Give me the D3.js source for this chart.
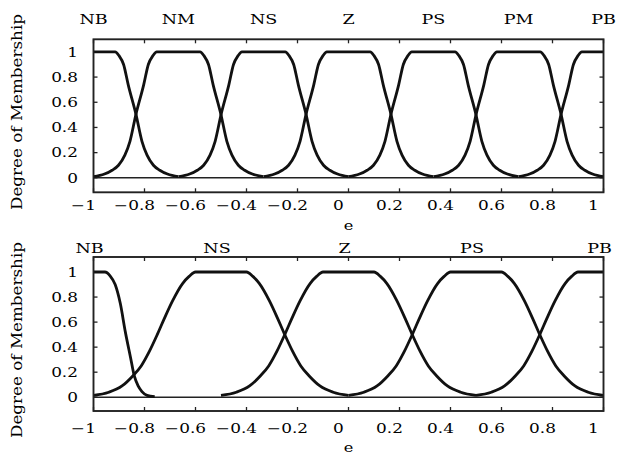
<!DOCTYPE html>
<html>
<head>
<meta charset="utf-8">
<script src="https://d3js.org/d3.v7.min.js"></script>
<style>
  body { margin: 0; background: #fff; }
  text { font-family: "DejaVu Serif", serif; fill: #000; }
</style>
</head>
<body>
<svg width="621" height="454"></svg>
<script>
// axis values
const xTicks = [-1, -0.8, -0.6, -0.4, -0.2, 0, 0.2, 0.4, 0.6, 0.8, 1];
const xTickLabels = ["\u22121", "\u22120.8", "\u22120.6", "\u22120.4", "\u22120.2", "0", "0.2", "0.4", "0.6", "0.8", "1"];
const yTicks = [0, 0.2, 0.4, 0.6, 0.8, 1];
const yTickLabels = ["0", "0.2", "0.4", "0.6", "0.8", "1"];

// upper plot: 7 sets
const topNames = ["NB", "NM", "NS", "Z", "PS", "PM", "PB"];
const topCenters = [-1, -0.667, -0.333, 0, 0.333, 0.667, 1];
const topNB = [[-1,1],[-0.915,1],[-0.9,0.97],[-0.882,0.9],[-0.864,0.74],[-0.833,0.5],[-0.81,0.29],[-0.79,0.18],[-0.765,0.1],[-0.74,0.06],[-0.71,0.03],[-0.667,0.01]];
const topNM = [[-1,0.01],[-0.957,0.03],[-0.927,0.06],[-0.902,0.1],[-0.877,0.18],[-0.857,0.29],[-0.834,0.5],[-0.803,0.74],[-0.785,0.9],[-0.767,0.97],[-0.752,1],[-0.582,1],[-0.567,0.97],[-0.549,0.9],[-0.531,0.74],[-0.5,0.5],[-0.477,0.29],[-0.457,0.18],[-0.432,0.1],[-0.407,0.06],[-0.377,0.03],[-0.334,0.01]];
const topNS = [[-0.666,0.01],[-0.623,0.03],[-0.593,0.06],[-0.568,0.1],[-0.543,0.18],[-0.523,0.29],[-0.5,0.5],[-0.469,0.74],[-0.451,0.9],[-0.433,0.97],[-0.418,1],[-0.248,1],[-0.233,0.97],[-0.215,0.9],[-0.197,0.74],[-0.166,0.5],[-0.143,0.29],[-0.123,0.18],[-0.098,0.1],[-0.073,0.06],[-0.043,0.03],[0,0.01]];
const topZ = [[-0.333,0.01],[-0.29,0.03],[-0.26,0.06],[-0.235,0.1],[-0.21,0.18],[-0.19,0.29],[-0.167,0.5],[-0.136,0.74],[-0.118,0.9],[-0.1,0.97],[-0.085,1],[0.085,1],[0.1,0.97],[0.118,0.9],[0.136,0.74],[0.167,0.5],[0.19,0.29],[0.21,0.18],[0.235,0.1],[0.26,0.06],[0.29,0.03],[0.333,0.01]];
const topPS = [[0,0.01],[0.043,0.03],[0.073,0.06],[0.098,0.1],[0.123,0.18],[0.143,0.29],[0.166,0.5],[0.197,0.74],[0.215,0.9],[0.233,0.97],[0.248,1],[0.418,1],[0.433,0.97],[0.451,0.9],[0.469,0.74],[0.5,0.5],[0.523,0.29],[0.543,0.18],[0.568,0.1],[0.593,0.06],[0.623,0.03],[0.666,0.01]];
const topPM = [[0.334,0.01],[0.377,0.03],[0.407,0.06],[0.432,0.1],[0.457,0.18],[0.477,0.29],[0.5,0.5],[0.531,0.74],[0.549,0.9],[0.567,0.97],[0.582,1],[0.752,1],[0.767,0.97],[0.785,0.9],[0.803,0.74],[0.834,0.5],[0.857,0.29],[0.877,0.18],[0.902,0.1],[0.927,0.06],[0.957,0.03],[1,0.01]];
const topPB = [[0.667,0.01],[0.71,0.03],[0.74,0.06],[0.765,0.1],[0.79,0.18],[0.81,0.29],[0.833,0.5],[0.864,0.74],[0.882,0.9],[0.9,0.97],[0.915,1],[1,1]];

// lower plot: 5 sets
const botNames = ["NB", "NS", "Z", "PS", "PB"];
const botCenters = [-1, -0.5, 0, 0.5, 1];
const botNB = [[-1,1],[-0.955,1],[-0.935,0.97],[-0.915,0.9],[-0.895,0.75],[-0.875,0.52],[-0.855,0.32],[-0.84,0.17],[-0.825,0.09],[-0.81,0.045],[-0.79,0.015],[-0.76,0.005]];
const botNS = [[-1,0.015],[-0.94,0.04],[-0.888,0.09],[-0.846,0.17],[-0.813,0.25],[-0.78,0.37],[-0.75,0.5],[-0.722,0.63],[-0.69,0.77],[-0.65,0.91],[-0.625,0.965],[-0.6,1],[-0.4,1],[-0.375,0.965],[-0.35,0.91],[-0.31,0.77],[-0.278,0.63],[-0.25,0.5],[-0.22,0.37],[-0.187,0.25],[-0.154,0.17],[-0.112,0.09],[-0.06,0.04],[0,0.015]];
const botZ = [[-0.5,0.015],[-0.44,0.04],[-0.388,0.09],[-0.346,0.17],[-0.313,0.25],[-0.28,0.37],[-0.25,0.5],[-0.222,0.63],[-0.19,0.77],[-0.15,0.91],[-0.125,0.965],[-0.1,1],[0.1,1],[0.125,0.965],[0.15,0.91],[0.19,0.77],[0.222,0.63],[0.25,0.5],[0.28,0.37],[0.313,0.25],[0.346,0.17],[0.388,0.09],[0.44,0.04],[0.5,0.015]];
const botPS = [[0,0.015],[0.06,0.04],[0.112,0.09],[0.154,0.17],[0.187,0.25],[0.22,0.37],[0.25,0.5],[0.278,0.63],[0.31,0.77],[0.35,0.91],[0.375,0.965],[0.4,1],[0.6,1],[0.625,0.965],[0.65,0.91],[0.69,0.77],[0.722,0.63],[0.75,0.5],[0.78,0.37],[0.813,0.25],[0.846,0.17],[0.888,0.09],[0.94,0.04],[1,0.015]];
const botPB = [[0.5,0.015],[0.56,0.04],[0.612,0.09],[0.654,0.17],[0.687,0.25],[0.72,0.37],[0.75,0.5],[0.778,0.63],[0.81,0.77],[0.85,0.91],[0.875,0.965],[0.9,1],[1,1]];

const svg = d3.select("svg");
const left = 93.5, right = 603.5;
const stretch = 1.3; // the fonts in the picture are wide

const panels = [
  { top: 39.3, bottom: 192.3, yDom: [-0.115, 1.1], curves: [topNB, topNM, topNS, topZ, topPS, topPM, topPB],
    names: topNames, centers: topCenters, nameY: 24, nameDx: 0, tickY: 210, eY: 230, labelY: 112 },
  { top: 257, bottom: 411, yDom: [-0.11, 1.12], curves: [botNB, botNS, botZ, botPS, botPB],
    names: botNames, centers: botCenters, nameY: 253, nameDx: -4, tickY: 432.5, eY: 452, labelY: 340 }
];

function wideText(g, x, y, str, size, anchor) {
  return g.append("text")
    .attr("transform", `translate(${x},${y}) scale(${stretch},1)`)
    .attr("text-anchor", anchor)
    .style("font-size", size + "px")
    .text(str);
}

panels.forEach(p => {
  const x = d3.scaleLinear().domain([-1, 1]).range([left, right]);
  const y = d3.scaleLinear().domain(p.yDom).range([p.bottom, p.top]);
  const g = svg.append("g");

  // ticks, inside the frame on all four sides
  xTicks.forEach(t => {
    g.append("line").attr("x1", x(t)).attr("x2", x(t)).attr("y1", p.top).attr("y2", p.top + 4)
      .style("stroke", "#222").style("stroke-width", 1.3);
    g.append("line").attr("x1", x(t)).attr("x2", x(t)).attr("y1", p.bottom).attr("y2", p.bottom - 4)
      .style("stroke", "#222").style("stroke-width", 1.3);
  });
  yTicks.forEach(t => {
    g.append("line").attr("x1", left).attr("x2", left + 4).attr("y1", y(t)).attr("y2", y(t))
      .style("stroke", "#222").style("stroke-width", 1.3);
    g.append("line").attr("x1", right).attr("x2", right - 4).attr("y1", y(t)).attr("y2", y(t))
      .style("stroke", "#222").style("stroke-width", 1.3);
  });

  // zero line
  g.append("line").attr("x1", left).attr("x2", right).attr("y1", y(0)).attr("y2", y(0))
    .style("stroke", "#222").style("stroke-width", 1.6);

  const line = d3.line().x(d => x(d[0])).y(d => y(d[1])).curve(d3.curveMonotoneX);
  p.curves.forEach(c => {
    g.append("path").attr("d", line(c))
      .style("fill", "none").style("stroke", "#111").style("stroke-width", 2.8)
      .style("stroke-linejoin", "round");
  });

  // frame
  g.append("rect").attr("x", left).attr("y", p.top)
    .attr("width", right - left).attr("height", p.bottom - p.top)
    .style("fill", "none").style("stroke", "#222").style("stroke-width", 1.9);

  // tick labels
  xTicks.forEach((t, i) => wideText(g, x(t) - 10, p.tickY, xTickLabels[i], 13, "middle"));
  yTicks.forEach((t, i) => wideText(g, 78, y(t) + 4.7, yTickLabels[i], 13, "end"));

  // set names on top
  p.names.forEach((n, i) => wideText(g, x(p.centers[i]) + p.nameDx, p.nameY, n, 13.5, "middle"));

  // axis titles
  wideText(g, x(0), p.eY, "e", 12.5, "middle");
  g.append("text")
    .attr("transform", `translate(21.5,${p.labelY}) rotate(-90)`)
    .attr("text-anchor", "middle")
    .attr("textLength", 196).attr("lengthAdjust", "spacingAndGlyphs")
    .style("font-size", "14.5px")
    .text("Degree of Membership");
});
</script>
</body>
</html>
